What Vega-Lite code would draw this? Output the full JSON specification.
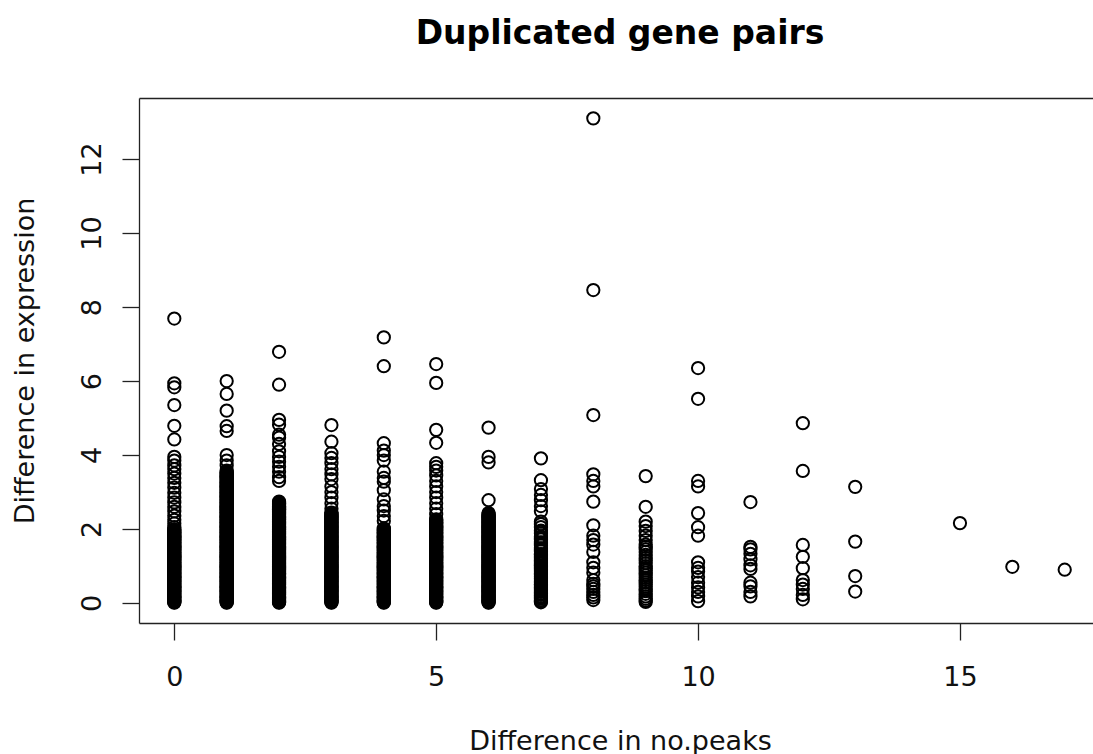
{
  "$schema": "https://vega.github.io/schema/vega-lite/v6.json",
  "width": 954,
  "height": 525,
  "autosize": {"type": "none"},
  "padding": {"left": 139, "top": 98, "right": 0, "bottom": 131},
  "background": "white",
  "config": {"view": {"stroke": null}, "font": "DejaVu Sans"},
  "title": {
    "text": "Duplicated gene pairs",
    "font": "DejaVu Sans",
    "fontSize": 33,
    "fontWeight": "bold",
    "color": "black",
    "anchor": "middle",
    "frame": "group",
    "baseline": "alphabetic",
    "offset": 21,
    "dx": 4
  },
  "data": {
    "values": [
      {"peaks":0,"expr":0.01},{"peaks":0,"expr":0.04},{"peaks":0,"expr":0.08},{"peaks":0,"expr":0.13},{"peaks":0,"expr":0.17},{"peaks":0,"expr":0.22},{"peaks":0,"expr":0.26},{"peaks":0,"expr":0.31},{"peaks":0,"expr":0.35},{"peaks":0,"expr":0.4},{"peaks":0,"expr":0.44},{"peaks":0,"expr":0.49},{"peaks":0,"expr":0.53},{"peaks":0,"expr":0.58},{"peaks":0,"expr":0.62},{"peaks":0,"expr":0.67},{"peaks":0,"expr":0.71},{"peaks":0,"expr":0.76},{"peaks":0,"expr":0.8},{"peaks":0,"expr":0.85},{"peaks":0,"expr":0.9},{"peaks":0,"expr":0.94},{"peaks":0,"expr":0.99},{"peaks":0,"expr":1.03},{"peaks":0,"expr":1.08},{"peaks":0,"expr":1.12},{"peaks":0,"expr":1.17},{"peaks":0,"expr":1.21},{"peaks":0,"expr":1.26},{"peaks":0,"expr":1.3},{"peaks":0,"expr":1.35},{"peaks":0,"expr":1.39},{"peaks":0,"expr":1.44},{"peaks":0,"expr":1.48},{"peaks":0,"expr":1.53},{"peaks":0,"expr":1.57},{"peaks":0,"expr":1.62},{"peaks":0,"expr":1.66},{"peaks":0,"expr":1.71},{"peaks":0,"expr":1.75},{"peaks":0,"expr":1.8},{"peaks":0,"expr":1.84},{"peaks":0,"expr":1.89},{"peaks":0,"expr":1.93},{"peaks":0,"expr":1.98},
      {"peaks":0,"expr":0.02},{"peaks":0,"expr":0.06},{"peaks":0,"expr":0.1},{"peaks":0,"expr":0.15},{"peaks":0,"expr":0.19},{"peaks":0,"expr":0.24},{"peaks":0,"expr":0.28},{"peaks":0,"expr":0.33},{"peaks":0,"expr":0.37},{"peaks":0,"expr":0.42},{"peaks":0,"expr":0.46},{"peaks":0,"expr":0.51},{"peaks":0,"expr":0.55},{"peaks":0,"expr":0.6},{"peaks":0,"expr":0.64},{"peaks":0,"expr":0.69},{"peaks":0,"expr":0.73},{"peaks":0,"expr":0.78},{"peaks":0,"expr":0.82},{"peaks":0,"expr":0.87},{"peaks":0,"expr":0.91},{"peaks":0,"expr":0.96},{"peaks":0,"expr":1.0},{"peaks":0,"expr":1.05},{"peaks":0,"expr":1.09},{"peaks":0,"expr":1.14},{"peaks":0,"expr":1.18},{"peaks":0,"expr":1.23},{"peaks":0,"expr":1.27},{"peaks":0,"expr":1.32},{"peaks":0,"expr":1.36},{"peaks":0,"expr":1.41},{"peaks":0,"expr":1.45},{"peaks":0,"expr":1.5},{"peaks":0,"expr":1.54},{"peaks":0,"expr":1.59},{"peaks":0,"expr":1.63},{"peaks":0,"expr":1.68},{"peaks":0,"expr":1.72},{"peaks":0,"expr":1.77},{"peaks":0,"expr":1.81},{"peaks":0,"expr":1.86},{"peaks":0,"expr":1.9},{"peaks":0,"expr":1.95},{"peaks":0,"expr":1.99},
      {"peaks":0,"expr":2.05},{"peaks":0,"expr":2.15},{"peaks":0,"expr":2.25},{"peaks":0,"expr":2.36},{"peaks":0,"expr":2.48},{"peaks":0,"expr":2.6},{"peaks":0,"expr":2.72},{"peaks":0,"expr":2.85},{"peaks":0,"expr":2.98},{"peaks":0,"expr":3.12},{"peaks":0,"expr":3.25},{"peaks":0,"expr":3.38},{"peaks":0,"expr":3.5},{"peaks":0,"expr":3.62},{"peaks":0,"expr":3.72},{"peaks":0,"expr":3.85},{"peaks":0,"expr":3.95},{"peaks":0,"expr":4.42},{"peaks":0,"expr":4.79},{"peaks":0,"expr":5.35},{"peaks":0,"expr":5.83},{"peaks":0,"expr":5.94},{"peaks":0,"expr":7.69},

      {"peaks":1,"expr":0.02},{"peaks":1,"expr":0.06},{"peaks":1,"expr":0.1},{"peaks":1,"expr":0.15},{"peaks":1,"expr":0.19},{"peaks":1,"expr":0.24},{"peaks":1,"expr":0.28},{"peaks":1,"expr":0.33},{"peaks":1,"expr":0.37},{"peaks":1,"expr":0.42},{"peaks":1,"expr":0.46},{"peaks":1,"expr":0.51},{"peaks":1,"expr":0.55},{"peaks":1,"expr":0.6},{"peaks":1,"expr":0.64},{"peaks":1,"expr":0.69},{"peaks":1,"expr":0.73},{"peaks":1,"expr":0.78},{"peaks":1,"expr":0.82},{"peaks":1,"expr":0.87},{"peaks":1,"expr":0.91},{"peaks":1,"expr":0.96},{"peaks":1,"expr":1.0},{"peaks":1,"expr":1.05},{"peaks":1,"expr":1.09},{"peaks":1,"expr":1.14},{"peaks":1,"expr":1.18},{"peaks":1,"expr":1.23},{"peaks":1,"expr":1.27},{"peaks":1,"expr":1.32},{"peaks":1,"expr":1.36},{"peaks":1,"expr":1.41},{"peaks":1,"expr":1.45},{"peaks":1,"expr":1.5},{"peaks":1,"expr":1.54},{"peaks":1,"expr":1.59},{"peaks":1,"expr":1.63},{"peaks":1,"expr":1.68},{"peaks":1,"expr":1.72},{"peaks":1,"expr":1.77},{"peaks":1,"expr":1.81},{"peaks":1,"expr":1.86},{"peaks":1,"expr":1.9},{"peaks":1,"expr":1.95},{"peaks":1,"expr":1.99},{"peaks":1,"expr":2.04},{"peaks":1,"expr":2.08},{"peaks":1,"expr":2.13},{"peaks":1,"expr":2.17},{"peaks":1,"expr":2.22},{"peaks":1,"expr":2.26},{"peaks":1,"expr":2.31},{"peaks":1,"expr":2.35},{"peaks":1,"expr":2.4},{"peaks":1,"expr":2.44},{"peaks":1,"expr":2.49},{"peaks":1,"expr":2.53},{"peaks":1,"expr":2.58},{"peaks":1,"expr":2.62},{"peaks":1,"expr":2.67},{"peaks":1,"expr":2.71},{"peaks":1,"expr":2.76},{"peaks":1,"expr":2.8},{"peaks":1,"expr":2.85},{"peaks":1,"expr":2.89},{"peaks":1,"expr":2.94},{"peaks":1,"expr":2.98},{"peaks":1,"expr":3.03},{"peaks":1,"expr":3.07},{"peaks":1,"expr":3.12},{"peaks":1,"expr":3.16},{"peaks":1,"expr":3.21},{"peaks":1,"expr":3.25},{"peaks":1,"expr":3.3},{"peaks":1,"expr":3.34},{"peaks":1,"expr":3.39},{"peaks":1,"expr":3.43},{"peaks":1,"expr":3.48},{"peaks":1,"expr":3.52},{"peaks":1,"expr":3.58},
      {"peaks":1,"expr":0.01},{"peaks":1,"expr":0.04},{"peaks":1,"expr":0.08},{"peaks":1,"expr":0.13},{"peaks":1,"expr":0.17},{"peaks":1,"expr":0.22},{"peaks":1,"expr":0.26},{"peaks":1,"expr":0.31},{"peaks":1,"expr":0.35},{"peaks":1,"expr":0.4},{"peaks":1,"expr":0.44},{"peaks":1,"expr":0.49},{"peaks":1,"expr":0.53},{"peaks":1,"expr":0.58},{"peaks":1,"expr":0.62},{"peaks":1,"expr":0.67},{"peaks":1,"expr":0.71},{"peaks":1,"expr":0.76},{"peaks":1,"expr":0.8},{"peaks":1,"expr":0.85},{"peaks":1,"expr":0.9},{"peaks":1,"expr":0.94},{"peaks":1,"expr":0.99},{"peaks":1,"expr":1.03},{"peaks":1,"expr":1.08},{"peaks":1,"expr":1.12},{"peaks":1,"expr":1.17},{"peaks":1,"expr":1.21},{"peaks":1,"expr":1.26},{"peaks":1,"expr":1.3},{"peaks":1,"expr":1.35},{"peaks":1,"expr":1.39},{"peaks":1,"expr":1.44},{"peaks":1,"expr":1.48},{"peaks":1,"expr":1.53},{"peaks":1,"expr":1.57},{"peaks":1,"expr":1.62},{"peaks":1,"expr":1.66},{"peaks":1,"expr":1.71},{"peaks":1,"expr":1.75},{"peaks":1,"expr":1.8},{"peaks":1,"expr":1.84},{"peaks":1,"expr":1.89},{"peaks":1,"expr":1.93},{"peaks":1,"expr":1.98},{"peaks":1,"expr":2.02},{"peaks":1,"expr":2.07},{"peaks":1,"expr":2.11},{"peaks":1,"expr":2.16},{"peaks":1,"expr":2.2},{"peaks":1,"expr":2.25},{"peaks":1,"expr":2.29},{"peaks":1,"expr":2.34},{"peaks":1,"expr":2.38},{"peaks":1,"expr":2.43},{"peaks":1,"expr":2.47},{"peaks":1,"expr":2.52},{"peaks":1,"expr":2.56},{"peaks":1,"expr":2.61},{"peaks":1,"expr":2.65},{"peaks":1,"expr":2.7},{"peaks":1,"expr":2.74},{"peaks":1,"expr":2.79},{"peaks":1,"expr":2.83},{"peaks":1,"expr":2.88},{"peaks":1,"expr":2.92},{"peaks":1,"expr":2.97},{"peaks":1,"expr":3.01},{"peaks":1,"expr":3.06},{"peaks":1,"expr":3.1},{"peaks":1,"expr":3.15},{"peaks":1,"expr":3.19},{"peaks":1,"expr":3.24},{"peaks":1,"expr":3.28},{"peaks":1,"expr":3.33},{"peaks":1,"expr":3.37},{"peaks":1,"expr":3.42},{"peaks":1,"expr":3.46},{"peaks":1,"expr":3.51},{"peaks":1,"expr":3.55},
      {"peaks":1,"expr":3.72},{"peaks":1,"expr":3.85},{"peaks":1,"expr":4.0},{"peaks":1,"expr":4.65},{"peaks":1,"expr":4.78},{"peaks":1,"expr":5.2},{"peaks":1,"expr":5.65},{"peaks":1,"expr":6.0},

      {"peaks":2,"expr":0.01},{"peaks":2,"expr":0.04},{"peaks":2,"expr":0.08},{"peaks":2,"expr":0.13},{"peaks":2,"expr":0.17},{"peaks":2,"expr":0.22},{"peaks":2,"expr":0.26},{"peaks":2,"expr":0.31},{"peaks":2,"expr":0.35},{"peaks":2,"expr":0.4},{"peaks":2,"expr":0.44},{"peaks":2,"expr":0.49},{"peaks":2,"expr":0.53},{"peaks":2,"expr":0.58},{"peaks":2,"expr":0.62},{"peaks":2,"expr":0.67},{"peaks":2,"expr":0.71},{"peaks":2,"expr":0.76},{"peaks":2,"expr":0.8},{"peaks":2,"expr":0.85},{"peaks":2,"expr":0.9},{"peaks":2,"expr":0.94},{"peaks":2,"expr":0.99},{"peaks":2,"expr":1.03},{"peaks":2,"expr":1.08},{"peaks":2,"expr":1.12},{"peaks":2,"expr":1.17},{"peaks":2,"expr":1.21},{"peaks":2,"expr":1.26},{"peaks":2,"expr":1.3},{"peaks":2,"expr":1.35},{"peaks":2,"expr":1.39},{"peaks":2,"expr":1.44},{"peaks":2,"expr":1.48},{"peaks":2,"expr":1.53},{"peaks":2,"expr":1.57},{"peaks":2,"expr":1.62},{"peaks":2,"expr":1.66},{"peaks":2,"expr":1.71},{"peaks":2,"expr":1.75},{"peaks":2,"expr":1.8},{"peaks":2,"expr":1.84},{"peaks":2,"expr":1.89},{"peaks":2,"expr":1.93},{"peaks":2,"expr":1.98},{"peaks":2,"expr":2.02},{"peaks":2,"expr":2.07},{"peaks":2,"expr":2.11},{"peaks":2,"expr":2.16},{"peaks":2,"expr":2.2},{"peaks":2,"expr":2.25},{"peaks":2,"expr":2.29},{"peaks":2,"expr":2.34},{"peaks":2,"expr":2.38},{"peaks":2,"expr":2.43},{"peaks":2,"expr":2.47},{"peaks":2,"expr":2.52},{"peaks":2,"expr":2.56},{"peaks":2,"expr":2.61},{"peaks":2,"expr":2.65},{"peaks":2,"expr":2.7},{"peaks":2,"expr":2.74},
      {"peaks":2,"expr":0.02},{"peaks":2,"expr":0.06},{"peaks":2,"expr":0.1},{"peaks":2,"expr":0.15},{"peaks":2,"expr":0.19},{"peaks":2,"expr":0.24},{"peaks":2,"expr":0.28},{"peaks":2,"expr":0.33},{"peaks":2,"expr":0.37},{"peaks":2,"expr":0.42},{"peaks":2,"expr":0.46},{"peaks":2,"expr":0.51},{"peaks":2,"expr":0.55},{"peaks":2,"expr":0.6},{"peaks":2,"expr":0.64},{"peaks":2,"expr":0.69},{"peaks":2,"expr":0.73},{"peaks":2,"expr":0.78},{"peaks":2,"expr":0.82},{"peaks":2,"expr":0.87},{"peaks":2,"expr":0.91},{"peaks":2,"expr":0.96},{"peaks":2,"expr":1.0},{"peaks":2,"expr":1.05},{"peaks":2,"expr":1.09},{"peaks":2,"expr":1.14},{"peaks":2,"expr":1.18},{"peaks":2,"expr":1.23},{"peaks":2,"expr":1.27},{"peaks":2,"expr":1.32},{"peaks":2,"expr":1.36},{"peaks":2,"expr":1.41},{"peaks":2,"expr":1.45},{"peaks":2,"expr":1.5},{"peaks":2,"expr":1.54},{"peaks":2,"expr":1.59},{"peaks":2,"expr":1.63},{"peaks":2,"expr":1.68},{"peaks":2,"expr":1.72},{"peaks":2,"expr":1.77},{"peaks":2,"expr":1.81},{"peaks":2,"expr":1.86},{"peaks":2,"expr":1.9},{"peaks":2,"expr":1.95},{"peaks":2,"expr":1.99},{"peaks":2,"expr":2.04},{"peaks":2,"expr":2.08},{"peaks":2,"expr":2.13},{"peaks":2,"expr":2.17},{"peaks":2,"expr":2.22},{"peaks":2,"expr":2.26},{"peaks":2,"expr":2.31},{"peaks":2,"expr":2.35},{"peaks":2,"expr":2.4},{"peaks":2,"expr":2.44},{"peaks":2,"expr":2.49},{"peaks":2,"expr":2.53},{"peaks":2,"expr":2.58},{"peaks":2,"expr":2.62},{"peaks":2,"expr":2.67},{"peaks":2,"expr":2.71},
      {"peaks":2,"expr":3.3},{"peaks":2,"expr":3.4},{"peaks":2,"expr":3.55},{"peaks":2,"expr":3.68},{"peaks":2,"expr":3.82},{"peaks":2,"expr":3.95},{"peaks":2,"expr":4.1},{"peaks":2,"expr":4.3},{"peaks":2,"expr":4.47},{"peaks":2,"expr":4.55},{"peaks":2,"expr":4.82},{"peaks":2,"expr":4.95},{"peaks":2,"expr":5.9},{"peaks":2,"expr":6.79},

      {"peaks":3,"expr":0.02},{"peaks":3,"expr":0.06},{"peaks":3,"expr":0.1},{"peaks":3,"expr":0.15},{"peaks":3,"expr":0.19},{"peaks":3,"expr":0.24},{"peaks":3,"expr":0.28},{"peaks":3,"expr":0.33},{"peaks":3,"expr":0.37},{"peaks":3,"expr":0.42},{"peaks":3,"expr":0.46},{"peaks":3,"expr":0.51},{"peaks":3,"expr":0.55},{"peaks":3,"expr":0.6},{"peaks":3,"expr":0.64},{"peaks":3,"expr":0.69},{"peaks":3,"expr":0.73},{"peaks":3,"expr":0.78},{"peaks":3,"expr":0.82},{"peaks":3,"expr":0.87},{"peaks":3,"expr":0.91},{"peaks":3,"expr":0.96},{"peaks":3,"expr":1.0},{"peaks":3,"expr":1.05},{"peaks":3,"expr":1.09},{"peaks":3,"expr":1.14},{"peaks":3,"expr":1.18},{"peaks":3,"expr":1.23},{"peaks":3,"expr":1.27},{"peaks":3,"expr":1.32},{"peaks":3,"expr":1.36},{"peaks":3,"expr":1.41},{"peaks":3,"expr":1.45},{"peaks":3,"expr":1.5},{"peaks":3,"expr":1.54},{"peaks":3,"expr":1.59},{"peaks":3,"expr":1.63},{"peaks":3,"expr":1.68},{"peaks":3,"expr":1.72},{"peaks":3,"expr":1.77},{"peaks":3,"expr":1.81},{"peaks":3,"expr":1.86},{"peaks":3,"expr":1.9},{"peaks":3,"expr":1.95},{"peaks":3,"expr":1.99},{"peaks":3,"expr":2.04},{"peaks":3,"expr":2.08},{"peaks":3,"expr":2.13},{"peaks":3,"expr":2.17},{"peaks":3,"expr":2.22},{"peaks":3,"expr":2.26},{"peaks":3,"expr":2.31},{"peaks":3,"expr":2.35},{"peaks":3,"expr":2.4},{"peaks":3,"expr":2.44},
      {"peaks":3,"expr":0.01},{"peaks":3,"expr":0.04},{"peaks":3,"expr":0.08},{"peaks":3,"expr":0.13},{"peaks":3,"expr":0.17},{"peaks":3,"expr":0.22},{"peaks":3,"expr":0.26},{"peaks":3,"expr":0.31},{"peaks":3,"expr":0.35},{"peaks":3,"expr":0.4},{"peaks":3,"expr":0.44},{"peaks":3,"expr":0.49},{"peaks":3,"expr":0.53},{"peaks":3,"expr":0.58},{"peaks":3,"expr":0.62},{"peaks":3,"expr":0.67},{"peaks":3,"expr":0.71},{"peaks":3,"expr":0.76},{"peaks":3,"expr":0.8},{"peaks":3,"expr":0.85},{"peaks":3,"expr":0.9},{"peaks":3,"expr":0.94},{"peaks":3,"expr":0.99},{"peaks":3,"expr":1.03},{"peaks":3,"expr":1.08},{"peaks":3,"expr":1.12},{"peaks":3,"expr":1.17},{"peaks":3,"expr":1.21},{"peaks":3,"expr":1.26},{"peaks":3,"expr":1.3},{"peaks":3,"expr":1.35},{"peaks":3,"expr":1.39},{"peaks":3,"expr":1.44},{"peaks":3,"expr":1.48},{"peaks":3,"expr":1.53},{"peaks":3,"expr":1.57},{"peaks":3,"expr":1.62},{"peaks":3,"expr":1.66},{"peaks":3,"expr":1.71},{"peaks":3,"expr":1.75},{"peaks":3,"expr":1.8},{"peaks":3,"expr":1.84},{"peaks":3,"expr":1.89},{"peaks":3,"expr":1.93},{"peaks":3,"expr":1.98},{"peaks":3,"expr":2.02},{"peaks":3,"expr":2.07},{"peaks":3,"expr":2.11},{"peaks":3,"expr":2.16},{"peaks":3,"expr":2.2},{"peaks":3,"expr":2.25},{"peaks":3,"expr":2.29},{"peaks":3,"expr":2.34},{"peaks":3,"expr":2.38},{"peaks":3,"expr":2.43},
      {"peaks":3,"expr":2.55},{"peaks":3,"expr":2.7},{"peaks":3,"expr":2.85},{"peaks":3,"expr":3.0},{"peaks":3,"expr":3.15},{"peaks":3,"expr":3.35},{"peaks":3,"expr":3.48},{"peaks":3,"expr":3.62},{"peaks":3,"expr":3.78},{"peaks":3,"expr":3.92},{"peaks":3,"expr":4.05},{"peaks":3,"expr":4.36},{"peaks":3,"expr":4.81},

      {"peaks":4,"expr":0.01},{"peaks":4,"expr":0.04},{"peaks":4,"expr":0.08},{"peaks":4,"expr":0.13},{"peaks":4,"expr":0.17},{"peaks":4,"expr":0.22},{"peaks":4,"expr":0.26},{"peaks":4,"expr":0.31},{"peaks":4,"expr":0.35},{"peaks":4,"expr":0.4},{"peaks":4,"expr":0.44},{"peaks":4,"expr":0.49},{"peaks":4,"expr":0.53},{"peaks":4,"expr":0.58},{"peaks":4,"expr":0.62},{"peaks":4,"expr":0.67},{"peaks":4,"expr":0.71},{"peaks":4,"expr":0.76},{"peaks":4,"expr":0.8},{"peaks":4,"expr":0.85},{"peaks":4,"expr":0.9},{"peaks":4,"expr":0.94},{"peaks":4,"expr":0.99},{"peaks":4,"expr":1.03},{"peaks":4,"expr":1.08},{"peaks":4,"expr":1.12},{"peaks":4,"expr":1.17},{"peaks":4,"expr":1.21},{"peaks":4,"expr":1.26},{"peaks":4,"expr":1.3},{"peaks":4,"expr":1.35},{"peaks":4,"expr":1.39},{"peaks":4,"expr":1.44},{"peaks":4,"expr":1.48},{"peaks":4,"expr":1.53},{"peaks":4,"expr":1.57},{"peaks":4,"expr":1.62},{"peaks":4,"expr":1.66},{"peaks":4,"expr":1.71},{"peaks":4,"expr":1.75},{"peaks":4,"expr":1.8},{"peaks":4,"expr":1.84},{"peaks":4,"expr":1.89},{"peaks":4,"expr":1.93},{"peaks":4,"expr":1.98},{"peaks":4,"expr":2.02},
      {"peaks":4,"expr":0.02},{"peaks":4,"expr":0.06},{"peaks":4,"expr":0.1},{"peaks":4,"expr":0.15},{"peaks":4,"expr":0.19},{"peaks":4,"expr":0.24},{"peaks":4,"expr":0.28},{"peaks":4,"expr":0.33},{"peaks":4,"expr":0.37},{"peaks":4,"expr":0.42},{"peaks":4,"expr":0.46},{"peaks":4,"expr":0.51},{"peaks":4,"expr":0.55},{"peaks":4,"expr":0.6},{"peaks":4,"expr":0.64},{"peaks":4,"expr":0.69},{"peaks":4,"expr":0.73},{"peaks":4,"expr":0.78},{"peaks":4,"expr":0.82},{"peaks":4,"expr":0.87},{"peaks":4,"expr":0.91},{"peaks":4,"expr":0.96},{"peaks":4,"expr":1.0},{"peaks":4,"expr":1.05},{"peaks":4,"expr":1.09},{"peaks":4,"expr":1.14},{"peaks":4,"expr":1.18},{"peaks":4,"expr":1.23},{"peaks":4,"expr":1.27},{"peaks":4,"expr":1.32},{"peaks":4,"expr":1.36},{"peaks":4,"expr":1.41},{"peaks":4,"expr":1.45},{"peaks":4,"expr":1.5},{"peaks":4,"expr":1.54},{"peaks":4,"expr":1.59},{"peaks":4,"expr":1.63},{"peaks":4,"expr":1.68},{"peaks":4,"expr":1.72},{"peaks":4,"expr":1.77},{"peaks":4,"expr":1.81},{"peaks":4,"expr":1.86},{"peaks":4,"expr":1.9},{"peaks":4,"expr":1.95},{"peaks":4,"expr":1.99},
      {"peaks":4,"expr":2.22},{"peaks":4,"expr":2.35},{"peaks":4,"expr":2.5},{"peaks":4,"expr":2.62},{"peaks":4,"expr":2.8},{"peaks":4,"expr":3.05},{"peaks":4,"expr":3.28},{"peaks":4,"expr":3.38},{"peaks":4,"expr":3.55},{"peaks":4,"expr":3.85},{"peaks":4,"expr":4.0},{"peaks":4,"expr":4.12},{"peaks":4,"expr":4.32},{"peaks":4,"expr":6.4},{"peaks":4,"expr":7.18},

      {"peaks":5,"expr":0.02},{"peaks":5,"expr":0.06},{"peaks":5,"expr":0.1},{"peaks":5,"expr":0.15},{"peaks":5,"expr":0.19},{"peaks":5,"expr":0.24},{"peaks":5,"expr":0.28},{"peaks":5,"expr":0.33},{"peaks":5,"expr":0.37},{"peaks":5,"expr":0.42},{"peaks":5,"expr":0.46},{"peaks":5,"expr":0.51},{"peaks":5,"expr":0.55},{"peaks":5,"expr":0.6},{"peaks":5,"expr":0.64},{"peaks":5,"expr":0.69},{"peaks":5,"expr":0.73},{"peaks":5,"expr":0.78},{"peaks":5,"expr":0.82},{"peaks":5,"expr":0.87},{"peaks":5,"expr":0.91},{"peaks":5,"expr":0.96},{"peaks":5,"expr":1.0},{"peaks":5,"expr":1.05},{"peaks":5,"expr":1.09},{"peaks":5,"expr":1.14},{"peaks":5,"expr":1.18},{"peaks":5,"expr":1.23},{"peaks":5,"expr":1.27},{"peaks":5,"expr":1.32},{"peaks":5,"expr":1.36},{"peaks":5,"expr":1.41},{"peaks":5,"expr":1.45},{"peaks":5,"expr":1.5},{"peaks":5,"expr":1.54},{"peaks":5,"expr":1.59},{"peaks":5,"expr":1.63},{"peaks":5,"expr":1.68},{"peaks":5,"expr":1.72},{"peaks":5,"expr":1.77},{"peaks":5,"expr":1.81},{"peaks":5,"expr":1.86},{"peaks":5,"expr":1.9},{"peaks":5,"expr":1.95},{"peaks":5,"expr":1.99},{"peaks":5,"expr":2.04},{"peaks":5,"expr":2.08},{"peaks":5,"expr":2.13},{"peaks":5,"expr":2.17},{"peaks":5,"expr":2.22},{"peaks":5,"expr":2.26},
      {"peaks":5,"expr":0.01},{"peaks":5,"expr":0.04},{"peaks":5,"expr":0.08},{"peaks":5,"expr":0.13},{"peaks":5,"expr":0.17},{"peaks":5,"expr":0.22},{"peaks":5,"expr":0.26},{"peaks":5,"expr":0.31},{"peaks":5,"expr":0.35},{"peaks":5,"expr":0.4},{"peaks":5,"expr":0.44},{"peaks":5,"expr":0.49},{"peaks":5,"expr":0.53},{"peaks":5,"expr":0.58},{"peaks":5,"expr":0.62},{"peaks":5,"expr":0.67},{"peaks":5,"expr":0.71},{"peaks":5,"expr":0.76},{"peaks":5,"expr":0.8},{"peaks":5,"expr":0.85},{"peaks":5,"expr":0.9},{"peaks":5,"expr":0.94},{"peaks":5,"expr":0.99},{"peaks":5,"expr":1.03},{"peaks":5,"expr":1.08},{"peaks":5,"expr":1.12},{"peaks":5,"expr":1.17},{"peaks":5,"expr":1.21},{"peaks":5,"expr":1.26},{"peaks":5,"expr":1.3},{"peaks":5,"expr":1.35},{"peaks":5,"expr":1.39},{"peaks":5,"expr":1.44},{"peaks":5,"expr":1.48},{"peaks":5,"expr":1.53},{"peaks":5,"expr":1.57},{"peaks":5,"expr":1.62},{"peaks":5,"expr":1.66},{"peaks":5,"expr":1.71},{"peaks":5,"expr":1.75},{"peaks":5,"expr":1.8},{"peaks":5,"expr":1.84},{"peaks":5,"expr":1.89},{"peaks":5,"expr":1.93},{"peaks":5,"expr":1.98},{"peaks":5,"expr":2.02},{"peaks":5,"expr":2.07},{"peaks":5,"expr":2.11},{"peaks":5,"expr":2.16},{"peaks":5,"expr":2.2},{"peaks":5,"expr":2.25},
      {"peaks":5,"expr":2.4},{"peaks":5,"expr":2.55},{"peaks":5,"expr":2.7},{"peaks":5,"expr":2.85},{"peaks":5,"expr":3.0},{"peaks":5,"expr":3.15},{"peaks":5,"expr":3.3},{"peaks":5,"expr":3.45},{"peaks":5,"expr":3.58},{"peaks":5,"expr":3.68},{"peaks":5,"expr":3.78},{"peaks":5,"expr":4.33},{"peaks":5,"expr":4.68},{"peaks":5,"expr":5.95},{"peaks":5,"expr":6.46},

      {"peaks":6,"expr":0.01},{"peaks":6,"expr":0.04},{"peaks":6,"expr":0.08},{"peaks":6,"expr":0.13},{"peaks":6,"expr":0.17},{"peaks":6,"expr":0.22},{"peaks":6,"expr":0.26},{"peaks":6,"expr":0.31},{"peaks":6,"expr":0.35},{"peaks":6,"expr":0.4},{"peaks":6,"expr":0.44},{"peaks":6,"expr":0.49},{"peaks":6,"expr":0.53},{"peaks":6,"expr":0.58},{"peaks":6,"expr":0.62},{"peaks":6,"expr":0.67},{"peaks":6,"expr":0.71},{"peaks":6,"expr":0.76},{"peaks":6,"expr":0.8},{"peaks":6,"expr":0.85},{"peaks":6,"expr":0.9},{"peaks":6,"expr":0.94},{"peaks":6,"expr":0.99},{"peaks":6,"expr":1.03},{"peaks":6,"expr":1.08},{"peaks":6,"expr":1.12},{"peaks":6,"expr":1.17},{"peaks":6,"expr":1.21},{"peaks":6,"expr":1.26},{"peaks":6,"expr":1.3},{"peaks":6,"expr":1.35},{"peaks":6,"expr":1.39},{"peaks":6,"expr":1.44},{"peaks":6,"expr":1.48},{"peaks":6,"expr":1.53},{"peaks":6,"expr":1.57},{"peaks":6,"expr":1.62},{"peaks":6,"expr":1.66},{"peaks":6,"expr":1.71},{"peaks":6,"expr":1.75},{"peaks":6,"expr":1.8},{"peaks":6,"expr":1.84},{"peaks":6,"expr":1.89},{"peaks":6,"expr":1.93},{"peaks":6,"expr":1.98},{"peaks":6,"expr":2.02},{"peaks":6,"expr":2.07},{"peaks":6,"expr":2.11},{"peaks":6,"expr":2.16},{"peaks":6,"expr":2.2},{"peaks":6,"expr":2.25},{"peaks":6,"expr":2.29},{"peaks":6,"expr":2.34},{"peaks":6,"expr":2.38},{"peaks":6,"expr":2.43},
      {"peaks":6,"expr":0.02},{"peaks":6,"expr":0.06},{"peaks":6,"expr":0.1},{"peaks":6,"expr":0.15},{"peaks":6,"expr":0.19},{"peaks":6,"expr":0.24},{"peaks":6,"expr":0.28},{"peaks":6,"expr":0.33},{"peaks":6,"expr":0.37},{"peaks":6,"expr":0.42},{"peaks":6,"expr":0.46},{"peaks":6,"expr":0.51},{"peaks":6,"expr":0.55},{"peaks":6,"expr":0.6},{"peaks":6,"expr":0.64},{"peaks":6,"expr":0.69},{"peaks":6,"expr":0.73},{"peaks":6,"expr":0.78},{"peaks":6,"expr":0.82},{"peaks":6,"expr":0.87},{"peaks":6,"expr":0.91},{"peaks":6,"expr":0.96},{"peaks":6,"expr":1.0},{"peaks":6,"expr":1.05},{"peaks":6,"expr":1.09},{"peaks":6,"expr":1.14},{"peaks":6,"expr":1.18},{"peaks":6,"expr":1.23},{"peaks":6,"expr":1.27},{"peaks":6,"expr":1.32},{"peaks":6,"expr":1.36},{"peaks":6,"expr":1.41},{"peaks":6,"expr":1.45},{"peaks":6,"expr":1.5},{"peaks":6,"expr":1.54},{"peaks":6,"expr":1.59},{"peaks":6,"expr":1.63},{"peaks":6,"expr":1.68},{"peaks":6,"expr":1.72},{"peaks":6,"expr":1.77},{"peaks":6,"expr":1.81},{"peaks":6,"expr":1.86},{"peaks":6,"expr":1.9},{"peaks":6,"expr":1.95},{"peaks":6,"expr":1.99},{"peaks":6,"expr":2.04},{"peaks":6,"expr":2.08},{"peaks":6,"expr":2.13},{"peaks":6,"expr":2.17},{"peaks":6,"expr":2.22},{"peaks":6,"expr":2.26},{"peaks":6,"expr":2.31},{"peaks":6,"expr":2.35},{"peaks":6,"expr":2.4},
      {"peaks":6,"expr":2.78},{"peaks":6,"expr":3.8},{"peaks":6,"expr":3.95},{"peaks":6,"expr":4.74},

      {"peaks":7,"expr":0.02},{"peaks":7,"expr":0.08},{"peaks":7,"expr":0.15},{"peaks":7,"expr":0.22},{"peaks":7,"expr":0.3},{"peaks":7,"expr":0.37},{"peaks":7,"expr":0.44},{"peaks":7,"expr":0.51},{"peaks":7,"expr":0.58},{"peaks":7,"expr":0.66},{"peaks":7,"expr":0.73},{"peaks":7,"expr":0.8},{"peaks":7,"expr":0.87},{"peaks":7,"expr":0.95},{"peaks":7,"expr":1.02},{"peaks":7,"expr":1.1},{"peaks":7,"expr":1.17},{"peaks":7,"expr":1.25},{"peaks":7,"expr":1.32},{"peaks":7,"expr":1.4},{"peaks":7,"expr":1.48},{"peaks":7,"expr":1.56},{"peaks":7,"expr":1.64},{"peaks":7,"expr":1.72},{"peaks":7,"expr":1.8},{"peaks":7,"expr":1.88},{"peaks":7,"expr":1.96},{"peaks":7,"expr":2.05},{"peaks":7,"expr":2.13},{"peaks":7,"expr":2.2},
      {"peaks":7,"expr":0.05},{"peaks":7,"expr":0.12},{"peaks":7,"expr":0.18},{"peaks":7,"expr":0.26},{"peaks":7,"expr":0.33},{"peaks":7,"expr":0.41},{"peaks":7,"expr":0.48},{"peaks":7,"expr":0.55},{"peaks":7,"expr":0.62},{"peaks":7,"expr":0.7},{"peaks":7,"expr":0.77},{"peaks":7,"expr":0.84},{"peaks":7,"expr":0.91},{"peaks":7,"expr":0.99},{"peaks":7,"expr":1.06},{"peaks":7,"expr":1.14},{"peaks":7,"expr":1.21},{"peaks":7,"expr":1.29},{"peaks":7,"expr":1.44},{"peaks":7,"expr":1.6},{"peaks":7,"expr":1.76},{"peaks":7,"expr":1.92},
      {"peaks":7,"expr":2.48},{"peaks":7,"expr":2.62},{"peaks":7,"expr":2.78},{"peaks":7,"expr":2.92},{"peaks":7,"expr":3.08},{"peaks":7,"expr":3.32},{"peaks":7,"expr":3.91},

      {"peaks":8,"expr":0.08},{"peaks":8,"expr":0.15},{"peaks":8,"expr":0.22},{"peaks":8,"expr":0.3},{"peaks":8,"expr":0.38},{"peaks":8,"expr":0.45},{"peaks":8,"expr":0.52},{"peaks":8,"expr":0.62},{"peaks":8,"expr":0.82},{"peaks":8,"expr":0.95},{"peaks":8,"expr":1.1},{"peaks":8,"expr":1.38},{"peaks":8,"expr":1.58},{"peaks":8,"expr":1.7},{"peaks":8,"expr":1.82},{"peaks":8,"expr":2.1},{"peaks":8,"expr":2.74},{"peaks":8,"expr":3.15},{"peaks":8,"expr":3.3},{"peaks":8,"expr":3.48},{"peaks":8,"expr":5.08},{"peaks":8,"expr":8.46},{"peaks":8,"expr":13.1},

      {"peaks":9,"expr":0.03},{"peaks":9,"expr":0.07},{"peaks":9,"expr":0.12},{"peaks":9,"expr":0.18},{"peaks":9,"expr":0.25},{"peaks":9,"expr":0.32},{"peaks":9,"expr":0.38},{"peaks":9,"expr":0.44},{"peaks":9,"expr":0.5},{"peaks":9,"expr":0.56},{"peaks":9,"expr":0.62},{"peaks":9,"expr":0.68},{"peaks":9,"expr":0.75},{"peaks":9,"expr":0.82},{"peaks":9,"expr":0.88},{"peaks":9,"expr":0.94},{"peaks":9,"expr":1.0},{"peaks":9,"expr":1.08},{"peaks":9,"expr":1.15},{"peaks":9,"expr":1.22},{"peaks":9,"expr":1.3},{"peaks":9,"expr":1.38},{"peaks":9,"expr":1.45},{"peaks":9,"expr":1.52},{"peaks":9,"expr":1.58},{"peaks":9,"expr":1.7},{"peaks":9,"expr":1.82},{"peaks":9,"expr":1.95},{"peaks":9,"expr":2.08},{"peaks":9,"expr":2.2},{"peaks":9,"expr":2.6},{"peaks":9,"expr":3.43},

      {"peaks":10,"expr":0.05},{"peaks":10,"expr":0.18},{"peaks":10,"expr":0.3},{"peaks":10,"expr":0.42},{"peaks":10,"expr":0.55},{"peaks":10,"expr":0.7},{"peaks":10,"expr":0.85},{"peaks":10,"expr":0.95},{"peaks":10,"expr":1.1},{"peaks":10,"expr":1.82},{"peaks":10,"expr":2.05},{"peaks":10,"expr":2.43},{"peaks":10,"expr":3.15},{"peaks":10,"expr":3.3},{"peaks":10,"expr":5.52},{"peaks":10,"expr":6.35},

      {"peaks":11,"expr":0.18},{"peaks":11,"expr":0.3},{"peaks":11,"expr":0.45},{"peaks":11,"expr":0.55},{"peaks":11,"expr":0.92},{"peaks":11,"expr":1.02},{"peaks":11,"expr":1.18},{"peaks":11,"expr":1.33},{"peaks":11,"expr":1.45},{"peaks":11,"expr":1.52},{"peaks":11,"expr":2.73},

      {"peaks":12,"expr":0.1},{"peaks":12,"expr":0.22},{"peaks":12,"expr":0.38},{"peaks":12,"expr":0.5},{"peaks":12,"expr":0.62},{"peaks":12,"expr":0.94},{"peaks":12,"expr":1.25},{"peaks":12,"expr":1.57},{"peaks":12,"expr":3.57},{"peaks":12,"expr":4.86},

      {"peaks":13,"expr":0.31},{"peaks":13,"expr":0.73},{"peaks":13,"expr":1.66},{"peaks":13,"expr":3.14},

      {"peaks":15,"expr":2.16},
      {"peaks":16,"expr":0.98},
      {"peaks":17,"expr":0.9}
    ]
  },
  "layer": [
    {
      "mark": {"type": "point", "shape": "circle", "filled": false, "stroke": "black", "strokeWidth": 2, "size": 150, "opacity": 1},
      "encoding": {
        "x": {
          "field": "peaks",
          "type": "quantitative",
          "scale": {"domain": [-0.674, 17.54], "nice": false, "zero": false},
          "axis": {
            "orient": "bottom",
            "values": [0, 5, 10, 15],
            "grid": false,
            "domain": true,
            "domainColor": "#222222",
            "domainWidth": 1.3,
            "ticks": true,
            "tickColor": "#222222",
            "tickWidth": 1.3,
            "tickSize": 17,
            "labelFont": "DejaVu Sans",
            "labelFontSize": 27,
            "labelColor": "#111111",
            "labelBaseline": "alphabetic",
            "labelPadding": 45,
            "labelFlush": false,
            "labelOverlap": false,
            "title": "Difference in no.peaks",
            "titleFont": "DejaVu Sans",
            "titleFontSize": 27,
            "titleFontWeight": "normal",
            "titleColor": "#111111",
            "titleX": 481,
            "titleY": 126,
            "titleAlign": "center",
            "titleBaseline": "alphabetic"
          }
        },
        "y": {
          "field": "expr",
          "type": "quantitative",
          "scale": {"domain": [-0.54, 13.65], "nice": false, "zero": false},
          "axis": {
            "values": [0, 2, 4, 6, 8, 10, 12],
            "grid": false,
            "domain": true,
            "domainColor": "#222222",
            "domainWidth": 1.3,
            "tickColor": "#222222",
            "tickWidth": 1.3,
            "tickSize": 17,
            "labelFont": "DejaVu Sans",
            "labelFontSize": 27,
            "labelColor": "#111111",
            "labelAngle": -90,
            "labelAlign": "center",
            "labelBaseline": "alphabetic",
            "labelPadding": 22,
            "labelFlush": false,
            "labelOverlap": false,
            "title": "Difference in expression",
            "titleFont": "DejaVu Sans",
            "titleFontSize": 27,
            "titleFontWeight": "normal",
            "titleColor": "#111111",
            "titleAngle": -90,
            "titleX": -106,
            "titleY": 262.5,
            "titleAlign": "center",
            "titleBaseline": "alphabetic"
          }
        }
      }
    },
    {
      "transform": [{"filter": "datum.peaks == 17"}],
      "mark": {"type": "point", "opacity": 0},
      "encoding": {
        "x": {
          "field": "peaks",
          "type": "quantitative",
          "scale": {"domain": [-0.674, 17.54], "nice": false, "zero": false},
          "axis": {"orient": "top", "labels": false, "ticks": false, "grid": false, "title": null, "domain": true, "domainColor": "#222222", "domainWidth": 1.3}
        }
      }
    }
  ],
  "resolve": {"axis": {"x": "independent"}}
}
